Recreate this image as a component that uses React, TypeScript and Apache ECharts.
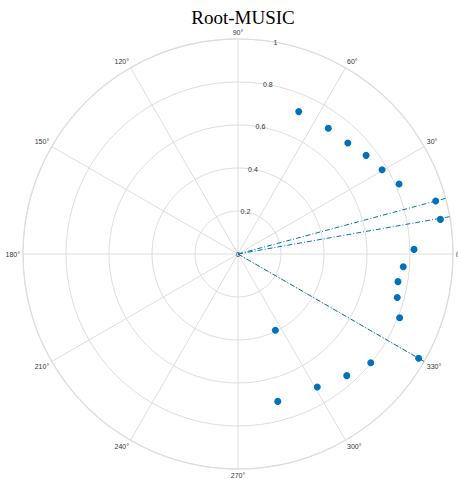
import React, { useEffect, useRef } from 'react';
import * as echarts from 'echarts';

// Estimated root angles (degrees) and magnitudes
const ROOT_ANGLES_DEG = [66.9, 54.3, 45.3, 37.6, 30.3, 23.5, 15.0, 9.7, 1.5, -4.4, -9.8, -15.3, -21.5, -30.0, -39.3, -48.2, -59.2, -63.9, -74.9];
const ROOT_MAGNITUDES = [0.72, 0.72, 0.726, 0.752, 0.776, 0.817, 0.952, 0.955, 0.819, 0.771, 0.755, 0.768, 0.808, 0.97, 0.798, 0.759, 0.72, 0.395, 0.71];
// Estimated directions of arrival (degrees), drawn as rays from 0 to 1
const DOA_ANGLES_DEG = [15, 10, -30];
const DOA_RADII = [0, 1];
const ANGLE_TICK_STEP = 30;
const RADIUS_TICK_STEP = 0.2;

const wrap = (a: number) => (a + 360) % 360;

export default function App() {
  const ref = useRef<HTMLDivElement>(null);
  useEffect(() => {
    const chart = echarts.init(ref.current!, null, { renderer: 'svg' });
    const blue = '#0072BD';
    const grid = '#dedede';
    const labelFont = { fontSize: 7, color: '#333', fontFamily: 'Liberation Sans' };
    chart.setOption({
      animation: false,
      backgroundColor: '#fff',
      title: {
        text: 'Root-MUSIC',
        left: 238,
        textAlign: 'center',
        top: 3,
        textStyle: { fontFamily: 'Liberation Serif', fontSize: 19, fontWeight: 'normal', color: '#000' },
      },
      polar: [
        { center: [238, 254], radius: 215 },
        { center: [238, 254], radius: 215 },
      ],
      angleAxis: [
        {
          polarIndex: 0,
          type: 'value',
          min: 0,
          max: 360,
          interval: ANGLE_TICK_STEP,
          startAngle: 0,
          clockwise: false,
          axisLine: { lineStyle: { color: grid, width: 1.2 } },
          axisTick: { show: false },
          axisLabel: { ...labelFont, formatter: '{value}°', margin: 3 },
          splitLine: { lineStyle: { color: grid, width: 1 } },
        },
        {
          polarIndex: 1,
          type: 'value',
          min: 0,
          max: 360,
          startAngle: 80,
          clockwise: false,
          show: false,
        },
      ],
      radiusAxis: [
        {
          polarIndex: 0,
          type: 'value',
          min: 0,
          max: 1,
          interval: RADIUS_TICK_STEP,
          axisLine: { show: false },
          axisTick: { show: false },
          axisLabel: { show: false },
          splitLine: { lineStyle: { color: grid, width: 1 } },
        },
        {
          polarIndex: 1,
          type: 'value',
          min: 0,
          max: 1,
          interval: RADIUS_TICK_STEP,
          axisLine: { show: false },
          axisTick: { show: false },
          splitLine: { show: false },
          axisLabel: { ...labelFont, margin: 0, align: 'center', verticalAlign: 'middle' },
        },
      ],
      series: [
        ...DOA_ANGLES_DEG.map((a) => ({
          type: 'line',
          coordinateSystem: 'polar',
          polarIndex: 0,
          data: DOA_RADII.map((r) => [r, wrap(a)]),
          symbol: 'none',
          lineStyle: { color: blue, width: 1, type: [5, 2, 1, 2] },
          z: 3,
        })),
        {
          type: 'scatter',
          coordinateSystem: 'polar',
          polarIndex: 0,
          data: ROOT_MAGNITUDES.map((r, i) => [r, wrap(ROOT_ANGLES_DEG[i])]),
          symbol: 'circle',
          symbolSize: 7,
          itemStyle: { color: blue, opacity: 1 },
          z: 4,
        },
      ],
    });
    return () => chart.dispose();
  }, []);
  return <div ref={ref} style={{ position: 'fixed', left: 0, top: 0, width: 458, height: 479 }} />;
}
